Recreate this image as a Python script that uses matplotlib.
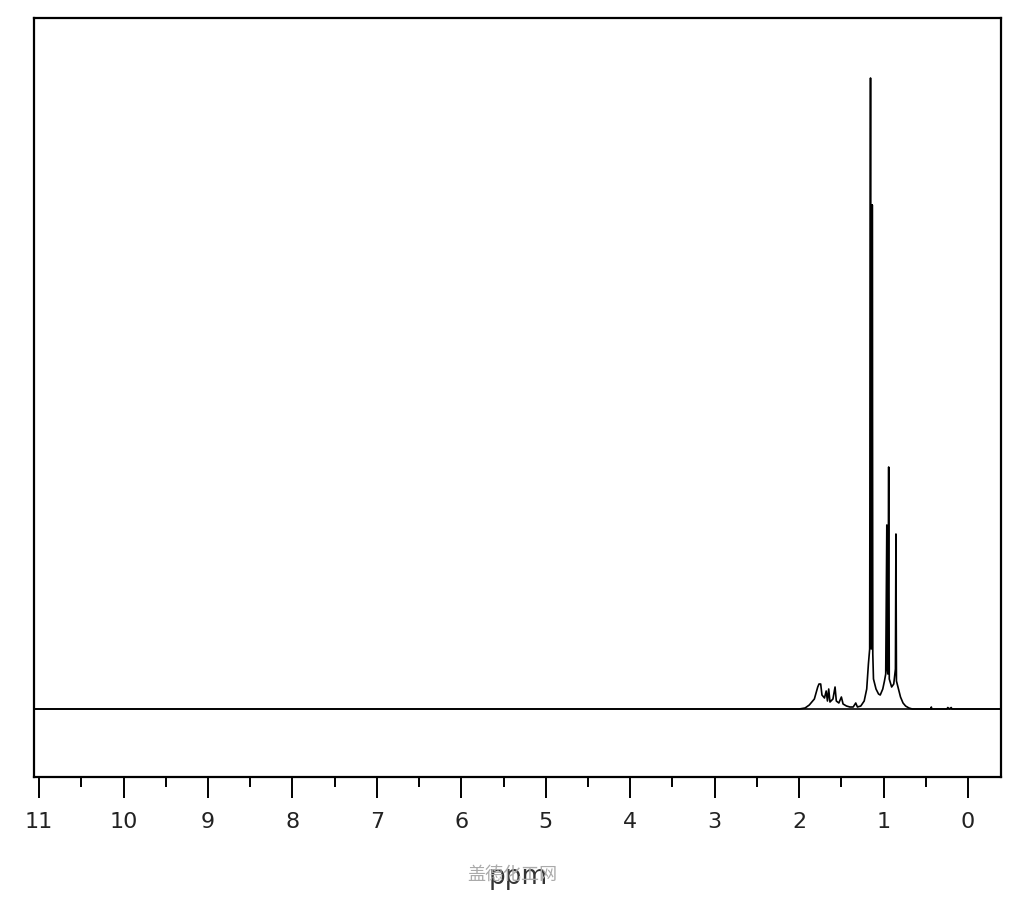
import matplotlib.pyplot as plt
from matplotlib.ticker import MultipleLocator

# spectrum trace (ppm, height above baseline)
ppm = [11.06, 2.00, 1.93, 1.88, 1.82, 1.78, 1.765, 1.745, 1.73, 1.70, 1.68, 1.665,
       1.65, 1.635, 1.60, 1.575, 1.56, 1.53, 1.50, 1.48, 1.44, 1.40, 1.36, 1.33,
       1.31, 1.27, 1.23, 1.20, 1.18, 1.165, 1.155, 1.150, 1.146, 1.140, 1.137,
       1.134, 1.128, 1.12, 1.09, 1.06, 1.04, 1.01, 0.99, 0.975, 0.962, 0.957,
       0.950, 0.940, 0.933, 0.905, 0.880, 0.860, 0.854, 0.848, 0.83, 0.80, 0.77,
       0.74, 0.70, 0.66, 0.44, 0.435, 0.43, 0.25, 0.24, 0.22, 0.20, 0.19, -0.39]
intensity = [0, 0, 1, 4, 10, 22, 25, 25, 14, 11, 18, 8,
             20, 7, 10, 22, 8, 6, 12, 5, 3, 2, 2, 6,
             2, 3, 8, 20, 45, 60, 631, 62, 60, 504, 80,
             504, 55, 30, 20, 15, 14, 20, 28, 35, 184, 40,
             35, 242, 30, 22, 25, 40, 175, 28, 22, 12, 6,
             3, 1, 0, 0, 2, 0, 0, 1.5, 0, 1.5, 0, 0]

major_ticks = list(range(0, 12))
tick_labels = [str(t) for t in major_ticks]

fig = plt.figure(figsize=(10.24, 9), dpi=100)
ax = fig.add_axes([34 / 1024, 123 / 900, 967 / 1024, 759 / 900])

ax.plot(ppm, intensity, color="black", linewidth=1.2)
ax.axhline(0, color="black", linewidth=1.2)

ax.set_xlim(11.06, -0.39)
ax.set_ylim(-68, 691)

ax.set_xticks(major_ticks)
ax.set_xticklabels(tick_labels, family="DejaVu Sans", fontsize=16, color="#222222")
ax.xaxis.set_minor_locator(MultipleLocator(0.5))
ax.tick_params(axis="x", which="major", direction="out", length=15, width=1.4, pad=10)
ax.tick_params(axis="x", which="minor", direction="out", length=7, width=1.4)
ax.set_yticks([])
for s in ax.spines.values():
    s.set_linewidth(1.6)

fig.text(0.506, 0.018, "ppm", ha="center", va="baseline", fontsize=19, color="#333333")
fig.text(0.5, 0.022, "盖德化工网", ha="center", va="baseline", fontsize=13,
         color="#aaaaaa", family=["Noto Sans CJK SC", "DejaVu Sans"])

fig.savefig("out.png", dpi=100)
